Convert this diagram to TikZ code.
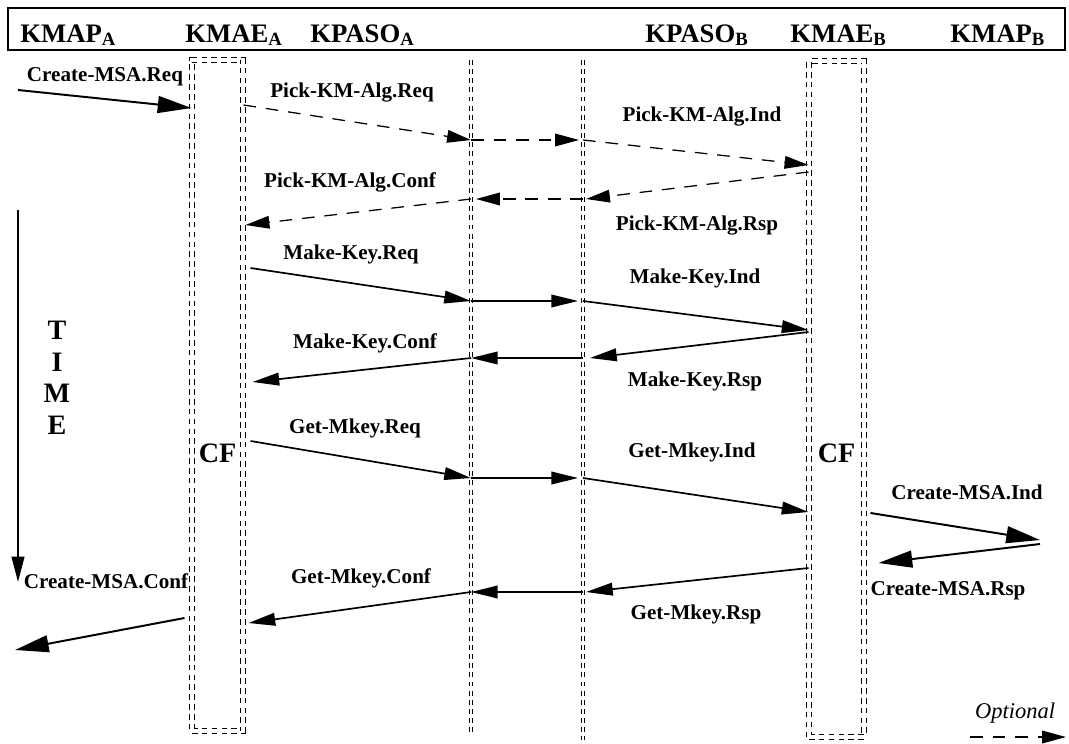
\documentclass[tikz,border=0pt]{standalone}
\usepackage{fontspec}
\setmainfont{Liberation Serif}
\usetikzlibrary{arrows.meta,positioning,calc}

\begin{document}
\begin{tikzpicture}[
      x=0.025cm, y=-0.025cm,
      hdr/.style={font=\fontsize{19}{19}\selectfont\bfseries, inner sep=0pt,
                  anchor=base west},
      lbl/.style={font=\fontsize{15}{15}\selectfont\bfseries, inner sep=0pt},
      biglbl/.style={font=\fontsize{20}{20}\selectfont\bfseries, inner sep=0pt},
      msg/.style={-{Triangle[length=19pt,width=9pt]}, line width=1.2pt},
      bigmsg/.style={-{Triangle[length=24pt,width=12pt]}, line width=1.4pt},
      optmsg/.style={-{Triangle[length=17pt,width=9pt]}, line width=0.9pt,
                     dash pattern=on 9pt off 7pt},
      cfbox/.style={draw, line width=0.7pt, double, double distance=2.5pt,
                    dash pattern=on 4pt off 3pt, inner sep=0pt},
      lane/.style={line width=0.6pt, double, double distance=1.6pt,
                   dash pattern=on 3.5pt off 3pt}
    ]
      \useasboundingbox (0,0) rectangle (1069,743);
      %% Header with the entities
      \node[draw, line width=1.2pt, minimum width=26.425cm, minimum height=1.05cm,
            inner sep=0pt] (hdrbox) at (536.5,29) {};
      \node[hdr] (kmapA)  at (20,42)  {KMAP\textsubscript{A}};
      \node[hdr] (kmaeA)  at (185,42) {KMAE\textsubscript{A}};
      \node[hdr] (kpasoA) at (310,42) {KPASO\textsubscript{A}};
      \node[hdr] (kpasoB) at (645,42) {KPASO\textsubscript{B}};
      \node[hdr] (kmaeB)  at (790,42) {KMAE\textsubscript{B}};
      \node[hdr] (kmapB)  at (950,42) {KMAP\textsubscript{B}};
      %% CF boxes
      \node[cfbox, minimum width=1.275cm, minimum height=16.775cm] (cfA)
            at (217.5,395.5) {};
      \node[cfbox, minimum width=1.375cm, minimum height=16.9cm] (cfB)
            at (836.5,399) {};
      \node[biglbl] (cfAlbl) at (cfA |- 0,453) {CF};
      \node[biglbl] (cfBlbl) at (cfB |- 0,453) {CF};
      %% KPASO lanes
      \coordinate (kpA) at (471,60);
      \coordinate (kpB) at (583,60);
      \draw[lane] (kpA) -- (kpA |- 0,735);
      \draw[lane] (kpB) -- (kpB |- 0,740);
      \foreach \n/\y in {pk1/140, pk2/199, mk1/301, mk2/358, gk1/478, gk2/592}{
        \coordinate (a\n) at (kpA |- 0,\y);
        \coordinate (b\n) at (kpB |- 0,\y);
      }
      %% KMAP end points
      \coordinate (reqA)  at (18,90);
      \coordinate (confA) at (15,650);
      \coordinate (indB)  at (1040,540);
      \coordinate (rspB)  at (1040,544);
      %% Create-MSA
      \draw[bigmsg] (reqA) -- (cfA.west |- 0,108);
      \node[lbl] (cmreq) at (105,77) {Create-MSA.Req};
      %% Pick-KM-Alg
      \draw[optmsg] (cfA.east |- 0,105) -- (apk1);
      \draw[optmsg] (apk1) -- ($(bpk1)+(-4,0)$);
      \draw[optmsg] (bpk1) -- (cfB.west |- 0,165);
      \draw[optmsg] (cfB.west |- 0,172) -- ($(bpk2)+(3,0)$);
      \draw[optmsg] (bpk2) -- ($(apk2)+(5,0)$);
      \draw[optmsg] (apk2) -- ($(cfA.east |- 0,225)+(2,0)$);
      \node[lbl] (pkreq)  at (352,93)  {Pick-KM-Alg.Req};
      \node[lbl] (pkind)  at (702,117) {Pick-KM-Alg.Ind};
      \node[lbl] (pkconf) at (350,182) {Pick-KM-Alg.Conf};
      \node[lbl] (pkrsp)  at (697,226) {Pick-KM-Alg.Rsp};
      %% Make-Key
      \draw[msg] ($(cfA.east |- 0,268)+(7,0)$) -- (amk1);
      \draw[msg] (amk1) -- ($(bmk1)+(-5,0)$);
      \draw[msg] (bmk1) -- (cfB.west |- 0,330);
      \draw[msg] (cfB.west |- 0,332) -- ($(bmk2)+(7,0)$);
      \draw[msg] (bmk2) -- (amk2);
      \draw[msg] (amk2) -- ($(cfA.east |- 0,382)+(9,0)$);
      \node[lbl] (mkreq)  at (351,254) {Make-Key.Req};
      \node[lbl] (mkind)  at (695,278) {Make-Key.Ind};
      \node[lbl] (mkconf) at (365,343) {Make-Key.Conf};
      \node[lbl] (mkrsp)  at (695,381) {Make-Key.Rsp};
      %% Get-Mkey
      \draw[msg] ($(cfA.east |- 0,441)+(7,0)$) -- (agk1);
      \draw[msg] (agk1) -- ($(bgk1)+(-5,0)$);
      \draw[msg] (bgk1) -- (cfB.west |- 0,512);
      \draw[msg] (cfB.west |- 0,568) -- ($(bgk2)+(3,0)$);
      \draw[msg] (bgk2) -- (agk2);
      \draw[msg] (agk2) -- ($(cfA.east |- 0,623)+(5,0)$);
      \node[lbl] (gkreq)  at (355,428) {Get-Mkey.Req};
      \node[lbl] (gkind)  at (692,452) {Get-Mkey.Ind};
      \node[lbl] (gkconf) at (361,578) {Get-Mkey.Conf};
      \node[lbl] (gkrsp)  at (696,614) {Get-Mkey.Rsp};
      %% Create-MSA on side B and back to A
      \draw[bigmsg] ($(cfB.east |- 0,513)+(6,0)$) -- (indB);
      \draw[bigmsg] (rspB) -- ($(cfB.east |- 0,563)+(14,0)$);
      \draw[bigmsg] ($(cfA.west |- 0,618)+(-7,0)$) -- (confA);
      \node[lbl] (cmind)  at (967,492) {Create-MSA.Ind};
      \node[lbl] (cmrsp)  at (948,591) {Create-MSA.Rsp};
      \node[lbl] (cmconf) at (106,581) {Create-MSA.Conf};
      %% Time axis
      \coordinate (ttop) at (18,210);
      \coordinate (tbot) at (18,582);
      \draw[-{Triangle[length=18pt,width=9pt]}, line width=1.5pt] (ttop) -- (tbot);
      \foreach \c/\y in {T/330, I/362, M/393, E/425}
        \node[biglbl] (time\c) at (57,\y) {\c};
      %% Legend
      \node[font=\fontsize{16}{16}\selectfont\itshape, inner sep=0pt] (optlbl)
            at (1015,713) {Optional};
      \coordinate (optA) at (970,737);
      \coordinate (optB) at (1066,737);
      \draw[optmsg] (optA) -- (optB);
    \end{tikzpicture}
\end{document}
